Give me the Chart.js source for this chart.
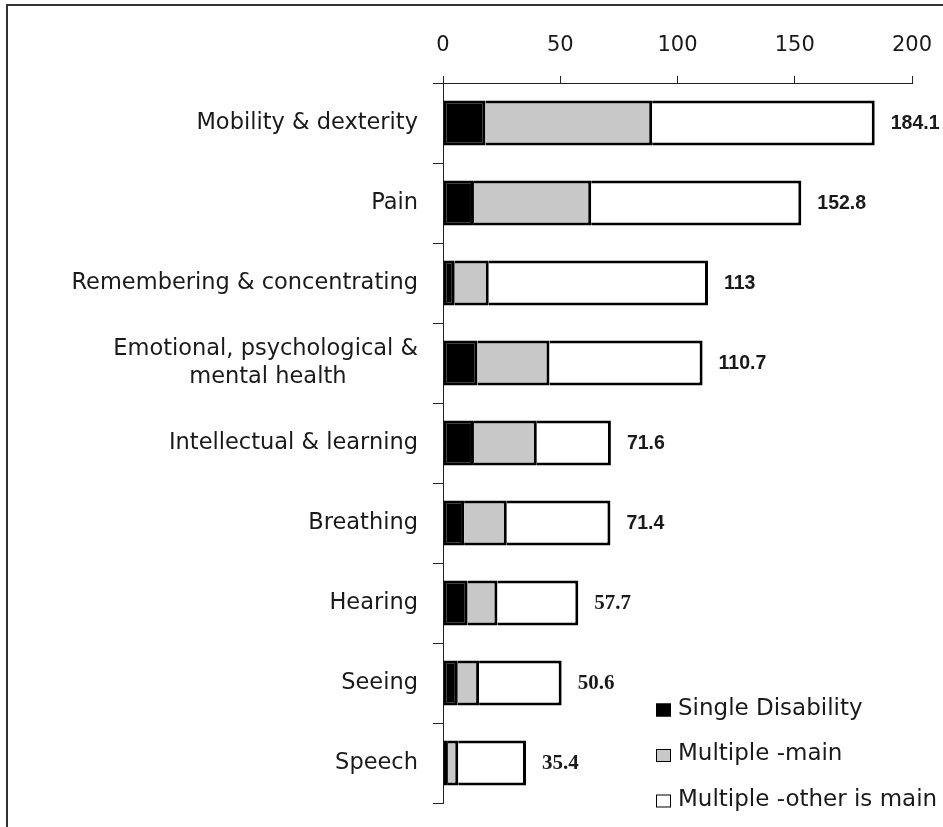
<!DOCTYPE html>
<html>
<head>
<meta charset="utf-8">
<script src="https://cdn.jsdelivr.net/npm/chart.js@4"></script>
<style>
  html, body { margin: 0; padding: 0; background: #fff; overflow: hidden; }
  #wrap { position: relative; width: 943px; height: 827px; }
</style>
</head>
<body>
<div id="wrap"><canvas id="chart"></canvas></div>
<script>
// Data
const categories = [
    'Mobility & dexterity',
    'Pain',
    'Remembering & concentrating',
    ['Emotional, psychological &', 'mental health'],
    'Intellectual & learning',
    'Breathing',
    'Hearing',
    'Seeing',
    'Speech'
];
const singleDisability = [18.1, 13.2, 5.0, 14.7, 13.2, 9.0, 10.5, 6.3, 2.1];
const multipleMain = [71.1, 50.0, 14.5, 30.7, 26.8, 18.2, 12.7, 9.1, 4.4];
const multipleOtherMain = [94.9, 89.6, 93.5, 65.3, 31.6, 44.2, 34.5, 35.2, 28.9];
const totalLabels = ['184.1', '152.8', '113', '110.7', '71.6', '71.4', '57.7', '50.6', '35.4'];
const xTicks = [0, 50, 100, 150, 200];

const LABEL_FONT = 'DejaVu Sans';
const TEXT = '#1a1a1a';

// centre the shorter line of a two-line label under the longer one
function centreLines(label, size) {
    if (!Array.isArray(label)) return label;
    const ctx = document.createElement('canvas').getContext('2d');
    ctx.font = size + 'px ' + LABEL_FONT;
    const widths = label.map(l => ctx.measureText(l).width);
    const maxW = Math.max(...widths);
    const space = ctx.measureText(' ').width;
    return label.map((l, i) => l + ' '.repeat(Math.round((maxW - widths[i]) / 2 / space)));
}

// Outer frame + white background
const framePlugin = {
    id: 'frame',
    beforeDraw(chart) {
        const ctx = chart.ctx;
        ctx.save();
        ctx.fillStyle = '#fff';
        ctx.fillRect(0, 0, chart.width, chart.height);
        ctx.strokeStyle = '#333';
        ctx.lineWidth = 2;
        ctx.strokeRect(7, 5, chart.width + 20, chart.height + 20);
        ctx.restore();
    }
};

// Bold totals at the end of each bar
const totalsPlugin = {
    id: 'totals',
    afterDatasetsDraw(chart) {
        const ctx = chart.ctx;
        const x = chart.scales.x, y = chart.scales.y;
        ctx.save();
        ctx.fillStyle = TEXT;
        ctx.textBaseline = 'middle';
        ctx.textAlign = 'left';
        totalLabels.forEach((t, i) => {
            const sum = chart.data.datasets.reduce((s, d) => s + d.data[i], 0);
            ctx.font = i < 6 ? 'bold 19.5px "Liberation Sans"' : 'bold 21px "Liberation Serif"';
            ctx.fillText(t, x.getPixelForValue(sum) + 16, y.getPixelForValue(i) + 1);
        });
        ctx.restore();
    }
};

// Legend inside the plot, lower right
const legendPlugin = {
    id: 'innerLegend',
    afterDraw(chart) {
        const ctx = chart.ctx;
        const area = chart.chartArea;
        const left = area.left + 213;
        ctx.save();
        ctx.font = '23px ' + LABEL_FONT;
        ctx.textBaseline = 'middle';
        chart.data.datasets.forEach((ds, i) => {
            const cy = area.bottom - 93 + i * 45.5;
            ctx.fillStyle = ds.backgroundColor;
            ctx.fillRect(left, cy - 6.5, 15, 13);
            ctx.strokeStyle = '#000';
            ctx.lineWidth = 1;
            ctx.strokeRect(left + 0.5, cy - 6, 14, 12);
            ctx.fillStyle = TEXT;
            ctx.fillText(ds.label, left + 22, cy - 1);
        });
        ctx.restore();
    }
};

const barStyle = {
    borderColor: '#000',
    borderWidth: 3,
    categoryPercentage: 1,
    barPercentage: 0.56
};

new Chart(document.getElementById('chart'), {
    type: 'bar',
    data: {
        labels: categories.map(c => centreLines(c, 22.5)),
        datasets: [
            Object.assign({ label: 'Single Disability', data: singleDisability, backgroundColor: '#000', borderSkipped: false }, barStyle),
            Object.assign({ label: 'Multiple -main', data: multipleMain, backgroundColor: '#c8c8c8', borderSkipped: 'start' }, barStyle),
            Object.assign({ label: 'Multiple -other is main', data: multipleOtherMain, backgroundColor: '#fff', borderSkipped: 'start' }, barStyle)
        ]
    },
    options: {
        indexAxis: 'y',
        responsive: true,
        maintainAspectRatio: false,
        animation: false,
        layout: { padding: { top: 0, left: 0, right: 31, bottom: 24 } },
        plugins: {
            legend: { display: false },
            tooltip: { enabled: false }
        },
        scales: {
            x: {
                position: 'top',
                stacked: true,
                min: 0,
                max: 200,
                afterBuildTicks(scale) {
                    scale.ticks = xTicks.map(v => ({ value: v }));
                },
                afterFit(scale) {
                    scale.height = 83;
                    scale.paddingLeft = 0;
                    scale.paddingRight = 0;
                },
                grid: { drawOnChartArea: false, tickLength: 7, color: '#222', lineWidth: 1 },
                border: { color: '#222', width: 1 },
                ticks: {
                    color: TEXT,
                    padding: 18,
                    font: { family: LABEL_FONT, size: 21 }
                }
            },
            y: {
                stacked: true,
                afterFit(scale) {
                    scale.width = 443;
                    scale.paddingTop = 0;
                    scale.paddingBottom = 0;
                },
                grid: { drawOnChartArea: false, offset: true, tickLength: 10, color: '#222', lineWidth: 1 },
                border: { color: '#222', width: 1 },
                ticks: {
                    color: TEXT,
                    padding: 15,
                    font: { family: LABEL_FONT, size: 22.5, lineHeight: 1.24 }
                }
            }
        }
    },
    plugins: [framePlugin, totalsPlugin, legendPlugin]
});
</script>
</body>
</html>
